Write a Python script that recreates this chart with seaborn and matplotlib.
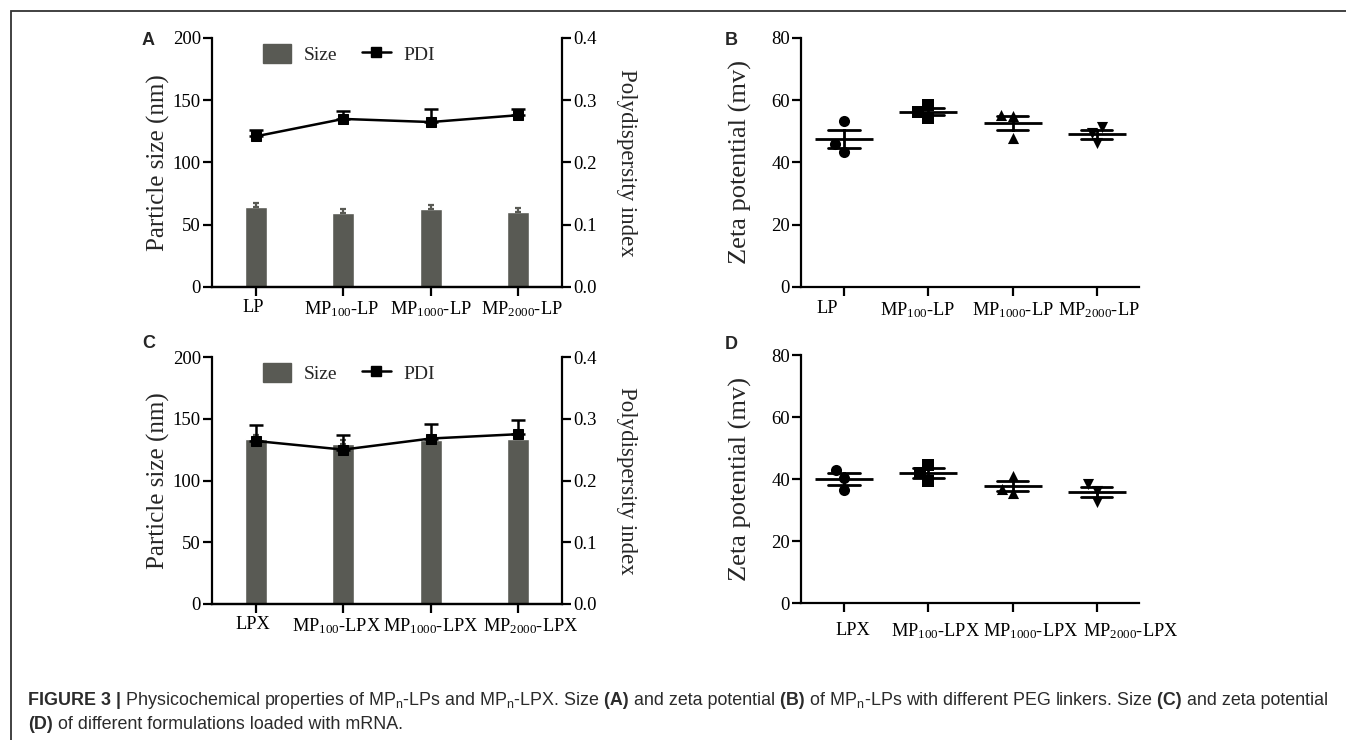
import numpy as np
import pandas as pd
import seaborn as sns
import matplotlib.pyplot as plt
import matplotlib.patches as mpatches
from matplotlib.lines import Line2D
from matplotlib.transforms import ScaledTranslation

# ---- data ----
cats_lp = ["LP", "MP100-LP", "MP1000-LP", "MP2000-LP"]
cats_lpx = ["LPX", "MP100-LPX", "MP1000-LPX", "MP2000-LPX"]
labels_lp = [r"LP", r"$\mathregular{MP_{100}}$-LP", r"$\mathregular{MP_{1000}}$-LP", r"$\mathregular{MP_{2000}}$-LP"]
labels_lpx = [r"LPX", r"$\mathregular{MP_{100}}$-LPX", r"$\mathregular{MP_{1000}}$-LPX", r"$\mathregular{MP_{2000}}$-LPX"]

size_a = [64.3, 59.6, 62.3, 60.1]
size_a_err = [3.2, 2.8, 3.8, 3.6]
pdi_a = [0.242, 0.270, 0.265, 0.276]
pdi_a_err = [0.011, 0.013, 0.021, 0.010]

size_c = [134.0, 129.5, 133.0, 134.0]
size_c_err = [3.0, 3.0, 3.0, 3.0]
pdi_c = [0.264, 0.250, 0.268, 0.275]
pdi_c_err = [0.026, 0.024, 0.023, 0.023]

zeta_b = [[53.2, 43.5, 45.9], [58.6, 54.3, 56.2], [55.3, 54.8, 48.0], [51.3, 46.3, 49.5]]
zeta_d = [[43.0, 36.6, 40.3], [44.6, 39.4, 41.8], [41.0, 35.5, 36.9], [38.5, 32.6, 36.2]]
zeta_markers = ["o", "s", "^", "v"]

BAR = "#595a54"

sns.set_style("ticks")
plt.rcParams["font.family"] = ["Liberation Serif", "DejaVu Serif"]
plt.rcParams.update({
    "axes.linewidth": 1.6,
    "xtick.major.width": 1.6, "ytick.major.width": 1.6,
    "xtick.major.size": 6.5, "ytick.major.size": 6.5,
    "xtick.color": "black", "ytick.color": "black",
    "axes.edgecolor": "black",
})

W, H = 1346, 740
fig = plt.figure(figsize=(W / 100, H / 100), dpi=100)


def px_axes(left, top, right, bottom):
    return fig.add_axes([left / W, 1 - bottom / H, (right - left) / W, (bottom - top) / H])


def shift_xlabels(ax, shifts):
    # the original labels sit a little off their ticks
    for lab, dx in zip(ax.get_xticklabels(), shifts):
        lab.set_transform(lab.get_transform() + ScaledTranslation(dx / 100, 0, fig.dpi_scale_trans))


def size_pdi_panel(ax, cats, labels, size, size_err, pdi, pdi_err, shifts):
    sns.barplot(x=cats, y=size, color=BAR, saturation=1, width=0.25, errorbar=None, ax=ax)
    pos = np.arange(len(cats))
    ax.errorbar(pos, size, yerr=[np.zeros(len(cats)), size_err], fmt="none",
                ecolor=BAR, elinewidth=1.6, capsize=2, capthick=1.6)
    ax.set_ylim(0, 200)
    ax.set_yticks([0, 50, 100, 150, 200])
    ax.set_xlim(-0.5, 3.5)
    ax.set_xticks(pos)
    ax.set_xticklabels(labels, fontsize=13.2)
    ax.tick_params(axis="y", labelsize=13.5, pad=1.5)
    ax.tick_params(axis="x", pad=2)
    ax.set_xlabel("")
    ax.set_ylabel("Particle size (nm)", fontsize=18)
    ax.yaxis.set_label_coords(-0.12, 0.5)
    for s in ["top", "right"]:
        ax.spines[s].set_visible(False)

    ax2 = ax.twinx()
    sns.lineplot(x=pos, y=pdi, color="black", marker="s", markersize=7.5,
                 markeredgecolor="black", linewidth=1.8, ax=ax2)
    ax2.errorbar(pos, pdi, yerr=[np.zeros(len(cats)), pdi_err], fmt="none",
                 ecolor="black", elinewidth=1.8, capsize=5, capthick=1.8)
    ax2.set_ylim(0, 0.4)
    ax2.set_yticks([0.0, 0.1, 0.2, 0.3, 0.4])
    ax2.set_yticklabels(["0.0", "0.1", "0.2", "0.3", "0.4"])
    ax2.tick_params(axis="y", labelsize=13.5, pad=1.5)
    ax2.set_xlim(-0.5, 3.5)
    ax2.set_ylabel("Polydispersity index", fontsize=16.5, rotation=270, va="center")
    ax2.yaxis.set_label_coords(1.185, 0.5)
    for s in ["top", "left"]:
        ax2.spines[s].set_visible(False)

    handles = [mpatches.Patch(color=BAR, label="Size"),
               Line2D([], [], color="black", marker="s", markersize=7.5, linewidth=1.8, label="PDI")]
    ax2.legend(handles=handles, loc="upper left", bbox_to_anchor=(0.145, 0.976), ncol=2,
               frameon=False, fontsize=14, handlelength=1.45, handleheight=1.1,
               handletextpad=0.65, columnspacing=1.3, borderpad=0, borderaxespad=0)
    shift_xlabels(ax, shifts)


def zeta_panel(ax, cats, labels, zeta, xpad, shifts):
    df = pd.DataFrame({"group": np.repeat(cats, [len(z) for z in zeta]),
                       "zeta": np.concatenate(zeta)})
    for c, m in zip(cats, zeta_markers):
        sns.swarmplot(data=df[df.group == c], x="group", y="zeta", order=cats,
                      color="black", marker=m, size=8, ax=ax)
    sns.pointplot(data=df, x="group", y="zeta", order=cats, errorbar="se",
                  color="black", markers="_", linestyles="none", capsize=0.37,
                  markersize=42, markeredgewidth=2, err_kws={"linewidth": 2}, ax=ax)
    ax.set_ylim(0, 80)
    ax.set_yticks([0, 20, 40, 60, 80])
    ax.set_xlim(-0.51, 3.5)
    ax.set_xticks(range(len(cats)))
    ax.set_xticklabels(labels, fontsize=13.2)
    ax.tick_params(axis="y", labelsize=13.5, pad=1.5)
    ax.tick_params(axis="x", pad=xpad)
    ax.set_xlabel("")
    ax.set_ylabel("Zeta potential (mv)", fontsize=19)
    ax.yaxis.set_label_coords(-0.145, 0.5)
    for s in ["top", "right"]:
        ax.spines[s].set_visible(False)
    shift_xlabels(ax, shifts)


ax_a = px_axes(212, 38, 562, 287)
ax_b = px_axes(801, 38, 1139, 287)
ax_c = px_axes(212, 357, 562, 604)
ax_d = px_axes(801, 355, 1139, 603)

size_pdi_panel(ax_a, cats_lp, labels_lp, size_a, size_a_err, pdi_a, pdi_a_err, [-3, -2, 0, 4])
size_pdi_panel(ax_c, cats_lpx, labels_lpx, size_c, size_c_err, pdi_c, pdi_c_err, [-2.5, -7, 0, 12])
zeta_panel(ax_b, cats_lp, labels_lp, zeta_b, 3, [-17, -11, 0, 2])
zeta_panel(ax_d, cats_lpx, labels_lpx, zeta_d, 7, [9, 7, 18, 34])

# panel letters
for letter, x, y in [("A", 142, 45), ("B", 725, 45), ("C", 142, 348), ("D", 725, 349)]:
    fig.text(x / W, 1 - y / H, letter, fontsize=13, fontweight="bold",
             family=["Liberation Sans", "DejaVu Sans"], ha="left", va="baseline")

# outer frame (top and left edges visible)
fig.add_artist(mpatches.Rectangle((11 / W, -0.5), 2, 1.5 - 11 / H, transform=fig.transFigure,
                                  fill=False, edgecolor="#333333", linewidth=1.3))

# caption
cap_lines = [
    [("FIGURE 3 |", "bold"), (" Physicochemical properties of MP$_\\mathregular{n}$-LPs and MP$_\\mathregular{n}$-LPX. Size", "normal"),
     (" (A)", "bold"), (" and zeta potential", "normal"), (" (B)", "bold"),
     (" of MP$_\\mathregular{n}$-LPs with different PEG linkers. Size", "normal"), (" (C)", "bold"),
     (" and zeta potential", "normal")],
    [("(D)", "bold"), (" of different formulations loaded with mRNA.", "normal")],
]
renderer = fig.canvas.get_renderer()
for line, ybase in zip(cap_lines, [705, 729]):
    x = 28
    for txt, wt in line:
        t = fig.text(x / W, 1 - ybase / H, txt, fontsize=12.9, fontweight=wt, color="#2b2b2b",
                     family=["Liberation Sans", "DejaVu Sans"], ha="left", va="baseline")
        x += t.get_window_extent(renderer).width

fig.savefig("out.png", dpi=100)
